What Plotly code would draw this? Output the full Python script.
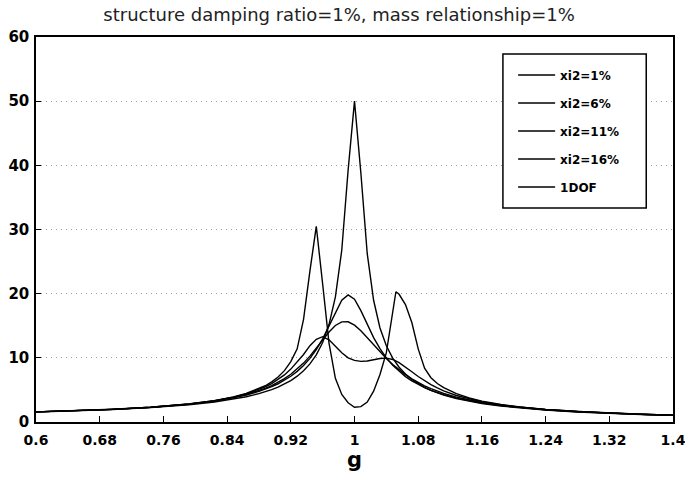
import plotly.graph_objects as go

# frequency ratio grid
g = [0.6, 0.648, 0.696, 0.744, 0.792, 0.824, 0.848, 0.864, 0.88,
     0.888, 0.896, 0.904, 0.912, 0.92, 0.928, 0.936, 0.944, 0.952, 0.96,
     0.968, 0.976, 0.984, 0.992, 1.0, 1.008, 1.016, 1.024, 1.032, 1.04,
     1.048, 1.056, 1.064, 1.072, 1.08, 1.088, 1.096, 1.104, 1.112,
     1.128, 1.144, 1.16, 1.184, 1.208, 1.24, 1.28, 1.32, 1.36, 1.4]

g_xi1 = [0.6, 0.648, 0.696, 0.744, 0.792, 0.824, 0.848, 0.864, 0.88,
         0.888, 0.896, 0.904, 0.912, 0.92, 0.928, 0.936, 0.944, 0.952, 0.96,
         0.968, 0.976, 0.984, 0.992, 1.0, 1.008, 1.016, 1.024, 1.032, 1.04,
         1.048, 1.052, 1.056, 1.064, 1.072, 1.08, 1.088, 1.096, 1.104, 1.112,
         1.128, 1.144, 1.16, 1.184, 1.208, 1.24, 1.28, 1.32, 1.36, 1.4]

xi2_1 = [1.58, 1.75, 1.98, 2.30, 2.81, 3.33, 3.91, 4.44, 5.19,
         5.65, 6.25, 7.0, 8.0, 9.4, 11.4, 16.0, 23.5, 30.5, 21.5,
         12.3, 6.8, 4.3, 3.0, 2.3, 2.4, 3.1, 4.8, 7.4, 10.8,
         16.8, 20.3, 19.9, 18.3, 15.5, 11.4, 8.4, 6.9, 6.0, 5.35,
         4.43, 3.75, 3.26, 2.72, 2.34, 1.96, 1.63, 1.39, 1.21, 1.06]

xi2_6 = [1.58, 1.75, 1.97, 2.30, 2.80, 3.31, 3.87, 4.38, 5.05,
         5.48, 5.99, 6.60, 7.34, 8.24, 9.31, 10.52, 11.9, 12.9, 13.3,
         12.8, 11.8, 10.8, 10.0, 9.6, 9.45, 9.5, 9.7, 9.9, 9.95,
         9.75, 9.25, 8.59, 7.83, 7.09, 6.41, 5.82, 5.30, 4.85,
         4.13, 3.59, 3.16, 2.67, 2.31, 1.95, 1.62, 1.39, 1.21, 1.06]

xi2_11 = [1.58, 1.74, 1.97, 2.29, 2.79, 3.29, 3.81, 4.28, 4.88,
          5.25, 5.68, 6.17, 6.75, 7.44, 8.24, 9.18, 10.27, 11.49, 12.79,
          14.03, 15.04, 15.61, 15.62, 15.10, 14.23, 13.16, 12.03, 10.93, 9.91,
          8.97, 8.13, 7.38, 6.73, 6.15, 5.64, 5.20, 4.80, 4.46,
          3.88, 3.42, 3.04, 2.60, 2.27, 1.92, 1.61, 1.38, 1.20, 1.06]

xi2_16 = [1.58, 1.74, 1.97, 2.28, 2.77, 3.26, 3.77, 4.21, 4.77,
          5.11, 5.50, 5.96, 6.50, 7.13, 7.89, 8.80, 9.92, 11.29, 12.96,
          14.94, 17.09, 18.97, 19.81, 19.15, 17.36, 15.19, 13.15, 11.42, 9.99,
          8.83, 7.87, 7.07, 6.40, 5.84, 5.36, 4.94, 4.58, 4.26,
          3.73, 3.30, 2.96, 2.55, 2.23, 1.90, 1.60, 1.37, 1.19, 1.05]

one_dof = [1.56, 1.72, 1.94, 2.24, 2.68, 3.11, 3.55, 3.94, 4.42,
           4.71, 5.05, 5.44, 5.91, 6.46, 7.14, 7.98, 9.05, 10.46, 12.39,
           15.18, 19.50, 26.77, 39.28, 50.0, 38.81, 26.23, 18.97, 14.66, 11.87,
           9.95, 8.54, 7.47, 6.64, 5.96, 5.41, 4.94, 4.55, 4.21,
           3.66, 3.23, 2.89, 2.48, 2.17, 1.86, 1.57, 1.35, 1.18, 1.04]

x_ticks = [0.6, 0.68, 0.76, 0.84, 0.92, 1.0, 1.08, 1.16, 1.24, 1.32, 1.4]
x_tick_text = ["0.6", "0.68", "0.76", "0.84", "0.92", "1", "1.08", "1.16",
               "1.24", "1.32", "1.4"]
y_ticks = [0, 10, 20, 30, 40, 50, 60]

series = [
    ("xi2=1%", g_xi1, xi2_1),
    ("xi2=6%", g, xi2_6),
    ("xi2=11%", g, xi2_11),
    ("xi2=16%", g, xi2_16),
    ("1DOF", g, one_dof),
]

fig = go.Figure()
for i, (name, xs, ys) in enumerate(series):
    fig.add_trace(go.Scatter(
        x=xs, y=ys, mode="lines", name=name, legendgroup=f"g{i}",
        line=dict(color="black", width=1.4),
    ))

x_tick_font = dict(family="DejaVu Sans", size=14, color="black", weight="bold")
y_tick_font = dict(family="DejaVu Sans", size=15, color="black", weight="bold")

# legend frame
fig.add_shape(type="rect", xref="paper", yref="paper",
              x0=0.733, x1=0.958, y0=0.556, y1=0.956,
              line=dict(color="black", width=1.5), fillcolor="white",
              layer="above")

fig.update_layout(
    width=685, height=487,
    margin=dict(l=36, r=12, t=37, b=65, autoexpand=False),
    paper_bgcolor="white", plot_bgcolor="white",
    title=dict(
        text="structure damping ratio=1%, mass relationship=1%",
        font=dict(family="DejaVu Sans", size=18, color="#222"),
        x=0.495, xref="container", xanchor="center",
        y=0.969, yref="container", yanchor="middle",
    ),
    showlegend=True,
    legend=dict(
        x=0.749, y=0.939, xanchor="left", yanchor="top",
        borderwidth=0, bgcolor="rgba(0,0,0,0)",
        font=dict(family="DejaVu Sans", size=12, color="black", weight="bold"),
        tracegroupgap=9, traceorder="grouped", itemwidth=37,
    ),
    xaxis=dict(
        range=[0.6, 1.4], tickvals=x_ticks, ticktext=x_tick_text,
        ticks="inside", ticklen=6, tickcolor="black", tickwidth=1,
        showline=True, linecolor="black", linewidth=1.5, mirror=True,
        showgrid=False, zeroline=False, tickfont=x_tick_font,
        ticklabelstandoff=4, automargin=False, ticklabeloverflow="allow",
        title=dict(text="g", font=dict(family="DejaVu Sans", size=21,
                                       color="black", weight="bold"),
                   standoff=5),
    ),
    yaxis=dict(
        range=[0, 60], tickvals=y_ticks,
        ticks="inside", ticklen=5, tickcolor="black", tickwidth=1,
        showline=True, linecolor="black", linewidth=1.5, mirror=True,
        showgrid=True, gridcolor="#9a9a9a", griddash="1px,4px", gridwidth=1,
        zeroline=False, tickfont=y_tick_font, ticklabelstandoff=2,
        automargin=False, ticklabeloverflow="allow",
    ),
)

fig.write_html("out.html")
